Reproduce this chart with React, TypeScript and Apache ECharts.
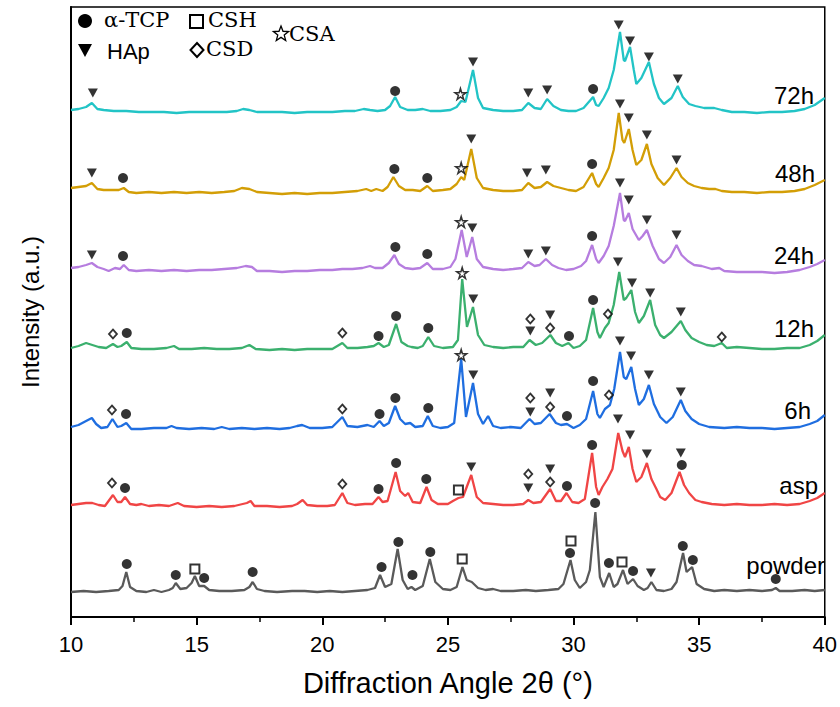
import React, { useEffect, useRef } from "react";
import * as echarts from "echarts";

type Pt = [number, number];
type Mk = [number, number, string];

const TRACE_NAMES = ["72h", "48h", "24h", "12h", "6h", "asp", "powder"];
const TRACE_COLORS = ["#22c4c6", "#d39e06", "#b67ddf", "#3bb06e", "#1f6ee0", "#f04545", "#5a5a5a"];
const TRACE_OFFSETS = [505, 425, 346, 267, 188, 110, 25];

const trace72h: Pt[] = [[10,2],[10.3,3],[10.6,5],[10.83,9],[11.05,3],[11.3,2],[11.7,1],[12.2,1],[12.7,0],[13.2,0],[13.7,0],[14.2,-1],[14.7,0],[15.2,0],[15.7,0],[16.2,0],[16.6,1],[16.85,3],[17.1,2],[17.4,0],[17.9,0],[18.4,0],[18.9,-1],[19.4,0],[19.9,0],[20.4,0],[20.9,1],[21.3,1],[21.65,3],[21.9,2],[22.2,1],[22.5,2],[22.7,6],[22.9,15],[23.1,5],[23.4,2],[23.7,2],[24.0,3],[24.3,1],[24.7,1],[25.1,2],[25.35,5],[25.53,11],[25.7,10],[26.0,42],[26.2,14],[26.4,4],[26.8,2],[27.2,1],[27.6,1],[27.95,2],[28.2,9],[28.45,4],[28.7,3],[28.95,13],[29.2,6],[29.5,2],[29.8,1],[30.1,1],[30.4,4],[30.78,15],[30.9,7],[31.0,6],[31.2,14],[31.4,24],[31.6,42],[31.85,80],[32.0,52],[32.05,51],[32.25,65],[32.4,42],[32.5,28],[32.7,34],[33.0,50],[33.2,28],[33.4,14],[33.6,8],[33.9,14],[34.15,26],[34.35,15],[34.6,8],[34.85,6],[35.2,4],[35.6,4],[35.9,2],[36.3,0],[36.8,0],[37.3,-1],[37.8,0],[38.3,0],[38.8,1],[39.2,3],[39.6,7],[40,14]];
const trace48h: Pt[] = [[10,4],[10.3,5],[10.6,6],[10.83,9],[11.05,3],[11.3,2],[11.6,2],[11.9,2],[12.1,4],[12.3,0],[12.6,-1],[13.1,0],[13.6,-1],[14.1,0],[14.6,-1],[15.1,0],[15.6,-1],[16.1,0],[16.5,1],[16.8,4],[17.1,3],[17.4,0],[17.9,-1],[18.4,-2],[18.9,-1],[19.4,-2],[19.9,-1],[20.4,-1],[20.9,0],[21.4,1],[21.75,3],[21.95,1],[22.15,3],[22.4,1],[22.6,5],[22.83,15],[23.05,6],[23.3,2],[23.6,2],[23.9,1],[24.18,6],[24.4,1],[24.8,2],[25.1,3],[25.35,8],[25.53,15],[25.65,12],[25.93,43],[26.15,14],[26.4,4],[26.8,2],[27.2,1],[27.6,1],[27.95,2],[28.2,9],[28.45,4],[28.7,5],[28.95,10],[29.2,6],[29.5,4],[29.8,2],[30.1,1],[30.4,5],[30.74,19],[30.9,8],[31.0,5],[31.2,14],[31.4,24],[31.6,42],[31.8,79],[31.95,52],[32.02,49],[32.2,63],[32.35,42],[32.5,27],[32.7,32],[32.92,48],[33.1,28],[33.35,14],[33.6,7],[33.85,14],[34.1,24],[34.3,15],[34.55,9],[34.8,6],[35.1,4],[35.4,3],[35.65,3],[35.9,1],[36.3,0],[36.8,0],[37.3,-1],[37.8,0],[38.3,0],[38.8,1],[39.2,3],[39.6,7],[40,12]];
const trace24h: Pt[] = [[10,3],[10.3,4],[10.6,6],[10.83,8],[11.05,4],[11.3,2],[11.5,0],[11.75,3],[11.95,2],[12.1,6],[12.3,1],[12.6,0],[13.1,1],[13.6,0],[14.1,1],[14.6,0],[15.1,1],[15.6,1],[16.1,2],[16.6,3],[16.95,5],[17.2,4],[17.4,0],[17.9,0],[18.4,-1],[18.9,0],[19.4,0],[19.9,1],[20.4,1],[20.8,2],[21.2,2],[21.6,3],[21.9,5],[22.1,3],[22.4,3],[22.65,8],[22.87,16],[23.05,7],[23.3,3],[23.6,2],[23.9,3],[24.18,8],[24.4,2],[24.8,2],[25.1,4],[25.3,12],[25.55,41],[25.75,14],[25.97,34],[26.15,12],[26.4,4],[26.8,2],[27.2,1],[27.6,2],[27.95,3],[28.2,9],[28.45,5],[28.65,6],[28.9,12],[29.15,6],[29.4,3],[29.7,1],[30.0,2],[30.3,5],[30.5,10],[30.74,26],[30.9,12],[31.0,8],[31.2,15],[31.4,25],[31.6,45],[31.85,78],[32.0,51],[32.05,50],[32.2,58],[32.35,42],[32.6,31],[32.75,35],[32.92,41],[33.15,25],[33.4,12],[33.6,8],[33.85,14],[34.1,26],[34.3,16],[34.55,10],[34.8,6],[35.1,5],[35.5,2],[35.8,3],[36.0,0],[36.5,-1],[37,-1],[37.5,-1],[38,-2],[38.5,-1],[39,1],[39.4,4],[39.7,7],[40,11]];
const trace12h: Pt[] = [[10,2],[10.3,4],[10.6,7],[10.85,5],[11.1,3],[11.4,2],[11.67,6],[11.85,3],[12.0,4],[12.22,8],[12.4,2],[12.8,1],[13.3,1],[13.8,2],[14.1,4],[14.3,1],[14.8,1],[15.3,2],[15.8,1],[16.3,1],[16.8,2],[17.1,5],[17.35,1],[17.9,0],[18.4,1],[18.9,0],[19.4,1],[19.9,1],[20.4,1],[20.8,7],[21.0,2],[21.4,2],[21.8,3],[22.05,4],[22.24,7],[22.45,3],[22.65,5],[22.94,26],[23.15,8],[23.4,4],[23.55,3],[23.8,2],[24.0,4],[24.22,13],[24.45,4],[24.8,2],[25.2,3],[25.4,10],[25.57,71],[25.76,23],[26.0,43],[26.2,15],[26.45,5],[26.8,3],[27.2,2],[27.6,3],[28.0,3],[28.25,10],[28.5,5],[28.75,7],[29.08,15],[29.3,7],[29.55,4],[29.8,7],[30.0,2],[30.25,4],[30.5,10],[30.78,42],[30.95,18],[31.05,12],[31.25,22],[31.4,27],[31.6,45],[31.82,78],[32.0,50],[32.1,52],[32.3,60],[32.45,38],[32.6,27],[32.8,34],[33.05,50],[33.25,25],[33.45,15],[33.6,12],[33.9,18],[34.27,29],[34.45,20],[34.7,12],[35.0,8],[35.3,5],[35.6,4],[35.9,7],[36.1,2],[36.5,3],[37,2],[37.5,1],[38,1],[38.5,2],[39,2],[39.4,5],[39.7,9],[40,15]];
const trace6h: Pt[] = [[10,2],[10.3,4],[10.6,8],[10.83,11],[11.0,5],[11.2,1],[11.45,2],[11.65,10],[11.85,2],[12.0,3],[12.2,6],[12.4,0],[12.8,0],[13.3,1],[13.8,1],[14.0,3],[14.2,1],[14.7,0],[15.2,1],[15.7,0],[16.0,2],[16.3,0],[16.8,1],[17.3,0],[17.8,1],[18.3,0],[18.7,1],[19.0,3],[19.2,4],[19.5,1],[20.0,1],[20.4,2],[20.8,12],[21.0,3],[21.4,2],[21.8,4],[22.05,2],[22.28,8],[22.45,3],[22.65,6],[22.9,23],[23.1,10],[23.3,5],[23.5,6],[23.7,2],[24.0,3],[24.2,13],[24.4,3],[24.7,1],[25.0,2],[25.25,6],[25.53,70],[25.72,12],[26.0,46],[26.2,15],[26.4,5],[26.6,13],[26.8,3],[27.1,1],[27.5,2],[27.9,1],[28.25,10],[28.45,5],[28.7,6],[29.05,15],[29.3,6],[29.5,4],[29.74,5],[30.0,1],[30.25,4],[30.5,10],[30.78,38],[30.95,15],[31.05,11],[31.25,20],[31.45,24],[31.62,40],[31.85,77],[32.0,52],[32.1,50],[32.3,62],[32.45,40],[32.6,24],[32.8,30],[33.0,44],[33.2,25],[33.45,12],[33.7,6],[33.95,12],[34.27,29],[34.45,18],[34.7,10],[35.0,5],[35.4,2],[36,1],[36.5,2],[37,1],[37.5,1],[38,0],[38.5,1],[39,2],[39.4,5],[39.7,8],[40,14]];
const traceAsp: Pt[] = [[10,2],[10.3,3],[10.6,4],[10.85,4],[11.1,2],[11.35,1],[11.67,12],[11.85,5],[12.0,5],[12.15,10],[12.35,3],[12.6,2],[12.8,3],[13.1,1],[13.5,2],[13.9,1],[14.25,4],[14.5,1],[15,0],[15.5,1],[16,0],[16.5,1],[17.0,4],[17.15,6],[17.3,1],[17.8,1],[18.3,0],[18.8,1],[19.0,3],[19.22,7],[19.4,2],[19.8,1],[20.2,1],[20.5,2],[20.8,14],[21.0,4],[21.3,2],[21.7,3],[22.0,3],[22.24,10],[22.4,5],[22.6,6],[22.92,35],[23.1,16],[23.3,11],[23.42,14],[23.6,5],[23.9,4],[24.15,20],[24.35,7],[24.6,3],[25.0,3],[25.2,6],[25.42,9],[25.6,10],[25.93,32],[26.15,10],[26.4,4],[26.8,3],[27.2,2],[27.6,2],[28.0,3],[28.2,7],[28.4,4],[28.7,5],[29.07,18],[29.3,6],[29.5,6],[29.72,14],[29.95,5],[30.2,4],[30.45,8],[30.74,54],[30.9,20],[31.0,12],[31.15,20],[31.35,28],[31.55,38],[31.78,74],[31.95,56],[32.05,50],[32.2,60],[32.35,38],[32.5,25],[32.7,30],[32.92,44],[33.1,28],[33.3,18],[33.45,10],[33.65,7],[33.9,14],[34.22,35],[34.4,22],[34.6,14],[34.85,7],[35.1,5],[35.5,3],[36,2],[36.5,3],[37,2],[37.5,2],[38,3],[38.5,2],[39,3],[39.4,6],[39.7,9],[40,14]];
const tracePowder: Pt[] = [[10,0],[10.5,1],[11,0],[11.5,1],[11.9,2],[12.05,6],[12.2,20],[12.35,5],[12.6,1],[13,0],[13.3,2],[13.6,0],[13.9,2],[14.05,4],[14.17,9],[14.35,3],[14.6,4],[14.8,9],[14.93,16],[15.1,6],[15.3,6],[15.5,2],[15.9,1],[16.4,1],[16.9,2],[17.1,5],[17.23,10],[17.4,3],[17.7,1],[18.2,0],[18.8,1],[19.3,1],[19.8,0],[20.3,1],[20.8,0],[21.3,1],[21.8,2],[22.1,4],[22.3,17],[22.5,5],[22.75,8],[23.0,43],[23.2,12],[23.4,3],[23.55,5],[23.7,2],[24.0,6],[24.28,33],[24.5,10],[24.8,3],[25.1,2],[25.35,5],[25.58,25],[25.75,12],[25.95,10],[26.2,4],[26.5,2],[26.8,3],[27.1,1],[27.6,1],[28.1,2],[28.5,1],[29.0,2],[29.4,3],[29.6,8],[29.88,32],[30.05,12],[30.25,4],[30.5,10],[30.65,22],[30.87,80],[31.05,15],[31.2,5],[31.42,19],[31.6,5],[31.75,8],[31.97,22],[32.15,8],[32.37,13],[32.55,6],[32.8,2],[32.95,4],[33.1,10],[33.3,2],[33.6,1],[33.9,3],[34.1,10],[34.36,39],[34.5,20],[34.72,25],[34.9,8],[35.2,3],[35.6,1],[36,2],[36.5,1],[37,2],[37.5,1],[37.9,2],[38.05,4],[38.2,1],[38.7,1],[39.2,2],[39.6,1],[40,2]];

// markers: [2θ, height above trace baseline, type] c=α-TCP t=HAp s=CSH d=CSD a=CSA
const marks72h: Mk[] = [[10.87,19,"t"],[22.9,21,"c"],[25.5,18,"a"],[26.0,50,"t"],[28.2,19,"t"],[28.95,22,"t"],[30.78,23,"c"],[31.8,87,"t"],[32.25,71,"t"],[33.0,55,"t"],[34.15,33,"t"]];
const marks48h: Mk[] = [[10.83,19,"t"],[12.07,14,"c"],[22.87,23,"c"],[24.18,14,"c"],[25.53,24,"a"],[25.93,53,"t"],[28.15,19,"t"],[28.9,22,"t"],[30.74,28,"c"],[31.85,88,"t"],[32.2,74,"t"],[32.92,57,"t"],[34.1,32,"t"]];
const marks24h: Mk[] = [[10.83,16,"t"],[12.07,15,"c"],[22.91,24,"c"],[24.18,17,"c"],[25.53,49,"a"],[25.97,43,"t"],[28.2,17,"t"],[28.9,20,"t"],[30.74,35,"c"],[31.85,88,"t"],[32.2,71,"t"],[32.92,51,"t"],[34.1,36,"t"]];
const marks12h: Mk[] = [[11.67,16,"d"],[12.22,17,"c"],[20.8,17,"d"],[22.24,14,"c"],[22.94,34,"c"],[24.22,22,"c"],[25.57,77,"a"],[26.01,51,"t"],[28.28,31,"d"],[28.28,19,"t"],[29.07,35,"t"],[29.07,22,"d"],[29.82,14,"c"],[30.78,50,"c"],[31.37,36,"d"],[31.77,88,"t"],[32.33,67,"t"],[33.05,57,"t"],[34.27,38,"t"],[35.9,13,"d"]];
const marks6h: Mk[] = [[11.63,19,"d"],[12.19,15,"c"],[20.8,20,"d"],[22.28,15,"c"],[22.91,31,"c"],[24.22,21,"c"],[25.53,74,"a"],[26.01,54,"t"],[28.28,31,"d"],[28.28,17,"t"],[29.07,36,"t"],[29.07,22,"d"],[29.74,13,"c"],[30.78,48,"c"],[31.41,34,"d"],[31.85,88,"t"],[32.29,73,"t"],[33.0,54,"t"],[34.27,37,"t"]];
const marksAsp: Mk[] = [[11.63,24,"d"],[12.15,19,"c"],[20.8,23,"d"],[22.24,18,"c"],[22.94,44,"c"],[24.14,28,"c"],[25.42,17,"s"],[25.93,40,"t"],[28.2,33,"d"],[28.2,19,"t"],[29.07,38,"t"],[29.07,25,"d"],[29.74,21,"c"],[30.74,62,"c"],[31.77,88,"t"],[32.25,72,"t"],[32.92,53,"t"],[34.27,54,"t"],[34.31,42,"c"]];
const marksPowder: Mk[] = [[12.22,28,"c"],[14.17,17,"c"],[14.93,23,"s"],[15.3,14,"c"],[17.23,20,"c"],[22.36,25,"c"],[23.03,50,"c"],[23.59,17,"c"],[24.3,40,"c"],[25.57,33,"s"],[29.86,39,"c"],[29.9,51,"s"],[30.86,89,"c"],[31.41,29,"c"],[31.93,30,"s"],[32.37,21,"c"],[33.08,19,"t"],[34.35,46,"c"],[34.75,32,"c"],[38.05,13,"c"]];

const TRACES = [trace72h, trace48h, trace24h, trace12h, trace6h, traceAsp, tracePowder];
const MARKS = [marks72h, marks48h, marks24h, marks12h, marks6h, marksAsp, marksPowder];

const LEGEND_LABELS = { c: "α-TCP", t: "HAp", s: "CSH", d: "CSD", a: "CSA" };
const X_TICKS = [10, 15, 20, 25, 30, 35, 40];

// layout (pixels)
const LABEL_POS: Pt[] = [[814, 95], [815, 173], [814, 255], [814, 328], [811, 410], [818, 485], [825, 565]];

const SANS = "'Liberation Sans', Arial, sans-serif";
const SERIF = "'DejaVu Serif', 'Liberation Serif', serif";

const STAR = "path://M50,0 L61,35 L98,35 L68,57 L79,91 L50,70 L21,91 L32,57 L2,35 L39,35 Z";
const TRI = "path://M0,0 L100,0 L50,88 Z";

function starPoints(cx: number, cy: number, R: number, r: number): number[][] {
  const pts: number[][] = [];
  for (let i = 0; i < 10; i++) {
    const a = -Math.PI / 2 + (i * Math.PI) / 5;
    const rr = i % 2 === 0 ? R : r;
    pts.push([cx + rr * Math.cos(a), cy + rr * Math.sin(a)]);
  }
  return pts;
}

export default function App() {
  const ref = useRef<HTMLDivElement>(null);
  useEffect(() => {
    if (!ref.current) return;
    const chart = echarts.init(ref.current, undefined, { renderer: "svg" });

    const lineSeries: any[] = TRACES.map((tr, i) => ({
      type: "line",
      name: TRACE_NAMES[i],
      data: tr.map(([x, y]) => [x, y + TRACE_OFFSETS[i]]),
      showSymbol: false,
      symbol: "none",
      lineStyle: { color: TRACE_COLORS[i], width: 2.3 },
      z: 2,
    }));

    const markType = (t: string) =>
      MARKS.flatMap((ms, i) => ms.filter((m) => m[2] === t).map((m) => [m[0], m[1] + TRACE_OFFSETS[i]]));

    const scatterBase = { type: "scatter", z: 5, silent: true };
    const markerSeries: any[] = [
      { ...scatterBase, name: LEGEND_LABELS.c, data: markType("c"), symbol: "circle", symbolSize: 10, itemStyle: { color: "#000" } },
      { ...scatterBase, name: LEGEND_LABELS.t, data: markType("t"), symbol: TRI, symbolSize: [10, 9], itemStyle: { color: "#000" } },
      { ...scatterBase, name: LEGEND_LABELS.s, data: markType("s"), symbol: "rect", symbolSize: 9, itemStyle: { color: "#fff", borderColor: "#000", borderWidth: 2 } },
      { ...scatterBase, name: LEGEND_LABELS.d, data: markType("d"), symbol: "diamond", symbolSize: [8, 9], itemStyle: { color: "#fff", borderColor: "#000", borderWidth: 1.8 } },
      { ...scatterBase, name: LEGEND_LABELS.a, data: markType("a"), symbol: STAR, symbolSize: 11, itemStyle: { color: "#fff", borderColor: "#000", borderWidth: 1.5 } },
    ];

    const labelGraphics = TRACE_NAMES.map((n, i) => ({
      type: "text",
      x: LABEL_POS[i][0],
      y: LABEL_POS[i][1],
      style: { text: n, fill: "#000", font: `24px ${SANS}`, textAlign: "right", textVerticalAlign: "middle" },
      z: 10,
    }));

    const legendGraphics: any[] = [
      { type: "circle", shape: { cx: 85, cy: 21, r: 7 }, style: { fill: "#000" } },
      { type: "text", x: 104, y: 20, style: { text: LEGEND_LABELS.c, fill: "#000", font: `21px ${SERIF}`, textVerticalAlign: "middle" } },
      { type: "rect", shape: { x: 190, y: 15, width: 13, height: 13 }, style: { fill: "#fff", stroke: "#000", lineWidth: 2 } },
      { type: "text", x: 208, y: 20, style: { text: LEGEND_LABELS.s, fill: "#000", font: `21px ${SERIF}`, textVerticalAlign: "middle" } },
      { type: "polygon", shape: { points: [[78, 44], [92, 44], [85, 57]] }, style: { fill: "#000" } },
      { type: "text", x: 107, y: 51, style: { text: LEGEND_LABELS.t, fill: "#000", font: `22px ${SANS}`, textVerticalAlign: "middle" } },
      { type: "polygon", shape: { points: [[197, 43], [203.5, 50], [197, 57], [190.5, 50]] }, style: { fill: "#fff", stroke: "#000", lineWidth: 2 } },
      { type: "text", x: 206, y: 49, style: { text: LEGEND_LABELS.d, fill: "#000", font: `21px ${SERIF}`, textVerticalAlign: "middle" } },
      { type: "polygon", shape: { points: starPoints(281, 34, 8, 3.4) }, style: { fill: "#fff", stroke: "#000", lineWidth: 1.3 } },
      { type: "text", x: 289, y: 34, style: { text: LEGEND_LABELS.a, fill: "#000", font: `21px ${SERIF}`, textVerticalAlign: "middle" } },
    ];

    chart.setOption({
      animation: false,
      backgroundColor: "#fff",
      grid: { left: 71, right: 14, top: 7, bottom: 90, show: true, borderColor: "#000", borderWidth: 1.5, backgroundColor: "transparent" },
      xAxis: {
        type: "value",
        min: X_TICKS[0],
        max: X_TICKS[X_TICKS.length - 1],
        interval: 5,
        axisLine: { show: true, onZero: false, lineStyle: { color: "#000", width: 2 } },
        axisTick: { show: true, length: 8, lineStyle: { color: "#000", width: 2 } },
        minorTick: { show: true, splitNumber: 2, length: 5, lineStyle: { color: "#000", width: 1.5 } },
        splitLine: { show: false },
        axisLabel: { fontSize: 22, color: "#000", fontFamily: SANS, margin: 16 },
        name: "Diffraction Angle 2θ (°)",
        nameLocation: "middle",
        nameGap: 51,
        nameTextStyle: { fontSize: 29, color: "#000", fontFamily: SANS },
      },
      yAxis: {
        type: "value",
        min: 0,
        max: 610,
        axisLine: { show: true, lineStyle: { color: "#000", width: 2 } },
        axisTick: { show: false },
        axisLabel: { show: false },
        splitLine: { show: false },
        name: "Intensity (a.u.)",
        nameLocation: "middle",
        nameGap: 29,
        nameTextStyle: { fontSize: 24, color: "#000", fontFamily: SANS },
      },
      graphic: [...legendGraphics, ...labelGraphics],
      series: [...lineSeries, ...markerSeries],
    });
    return () => chart.dispose();
  }, []);
  return <div ref={ref} style={{ position: "fixed", left: 0, top: 0, width: 840, height: 707 }} />;
}
